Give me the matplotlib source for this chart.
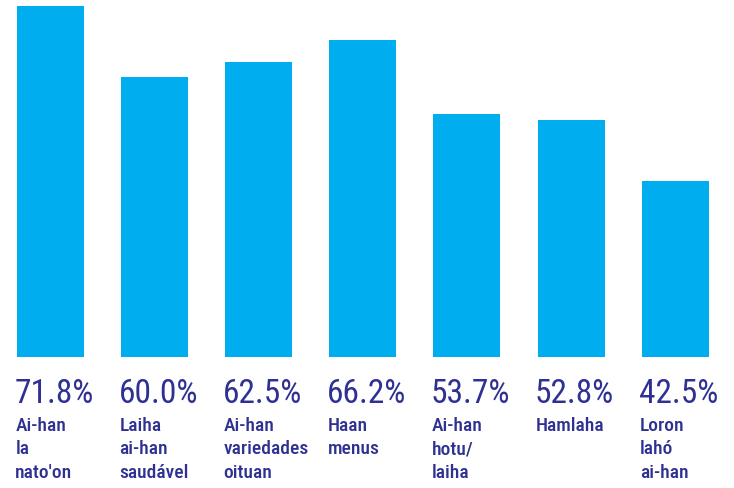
import matplotlib
matplotlib.use("Agg")
import matplotlib.pyplot as plt
import matplotlib.transforms as mtransforms

categories = ["Ai-han\nla\nnato'on", "Laiha\nai-han\nsaudável", "Ai-han\nvariedades\noituan",
              "Haan\nmenus", "Ai-han\nhotu/\nlaiha", "Hamlaha", "Loron\nlahó\nai-han"]
values = [71.8, 60.0, 62.5, 66.2, 53.7, 52.8, 42.5]
value_labels = ["71.8%", "60.0%", "62.5%", "66.2%", "53.7%", "52.8%", "42.5%"]

bar_color = "#00AEEF"
text_color = "#2E3192"
fonts = ["Roboto Condensed", "DejaVu Sans"]

fig = plt.figure(figsize=(7.34, 4.89), dpi=100)
ax = fig.add_axes([0, 0.268, 1, 0.732])
x = list(range(len(values)))
width = 0.643
ax.bar(x, values, width=width, color=bar_color)
ax.set_xlim(-0.484, 6.564)
ax.set_ylim(13, 73.0)
ax.axis("off")

trans = mtransforms.blended_transform_factory(ax.transData, fig.transFigure)
for i, (lab, cat) in enumerate(zip(value_labels, categories)):
    left = i - width / 2 - 0.025
    ax.text(left, 1 - 403 / 489, lab, transform=trans, ha="left", va="baseline",
            fontsize=24, color=text_color, family=fonts)
    ax.text(left + 0.01, 1 - 417 / 489, cat, transform=trans, ha="left", va="top",
            fontsize=14, color=text_color, family=fonts, weight="medium", linespacing=1.38)

fig.savefig("out.png", dpi=100)
